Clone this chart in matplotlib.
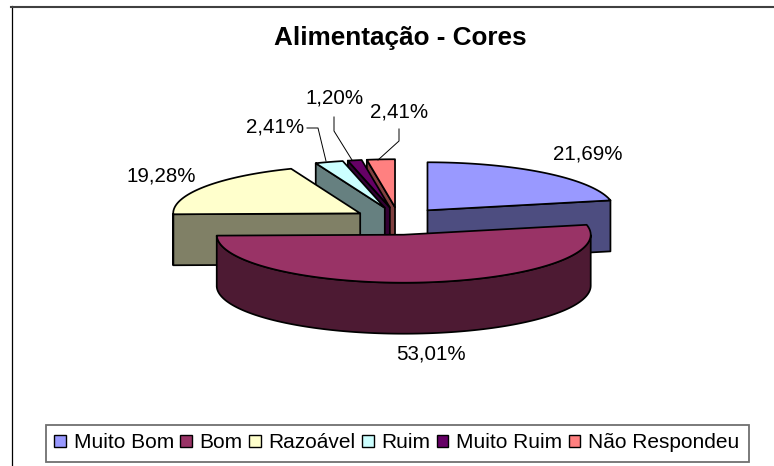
import numpy as np
import matplotlib
matplotlib.use("Agg")
import matplotlib.pyplot as plt
from matplotlib.patches import Polygon, Patch, Rectangle

categories = ["Muito Bom", "Bom", "Razoável", "Ruim", "Muito Ruim", "Não Respondeu"]
values = [21.69, 53.01, 19.28, 2.41, 1.20, 2.41]
top_colors = ["#9999FF", "#993366", "#FFFFCC", "#CCFFFF", "#660066", "#FF8080"]
side_colors = ["#4D4D80", "#4D1A33", "#808066", "#668080", "#330033", "#804040"]
title = "Alimentação - Cores"

# layout (pixels)
CX, CY, RX, RY, DEPTH, EXPLODE, KY = 398.5, 221.0, 187.0, 48.0, 51.0, 46.0, 0.30
label_xy = [(588, 154), (431, 354), (161, 176), (275, 127), (335, 98), (399, 112)]
leaders = {3: [(307, 128), (318, 128), (326, 161)],
           4: [(334, 117), (334, 131), (352, 160)],
           5: [(399, 129), (399, 141), (378, 160)]}

plt.rcParams["font.family"] = ["Liberation Sans", "DejaVu Sans"]
fig = plt.figure(figsize=(7.74, 4.66), dpi=100)
ax = fig.add_axes([0, 0, 1, 1])
ax.set_xlim(0, 774)
ax.set_ylim(466, 0)
ax.axis("off")

ax.plot([11.5, 11.5], [6, 466], color="black", lw=0.9, zorder=1)
ax.plot([11, 774], [6.5, 6.5], color="#404040", lw=1.5, zorder=1)

edges = np.cumsum([0] + values) / sum(values) * 2 * np.pi
LW = 1.25


def pt(a, apex, r=1.0):
    return (apex[0] + RX * r * np.sin(a), apex[1] - RY * r * np.cos(a))


slices = []
for i in range(len(values)):
    a0, a1 = edges[i], edges[i + 1]
    mid = (a0 + a1) / 2
    apex = (CX + EXPLODE * np.sin(mid), CY - EXPLODE * KY * np.cos(mid))
    slices.append((i, a0, a1, apex))

# painter's order, back to front
order = [0, 5, 4, 3, 2, 1]
z = 2
for i in order:
    _, a0, a1, apex = slices[i]
    side = side_colors[i]
    walls = []
    if np.sin(a1) > 0.01:
        walls.append(a1)
    if -np.sin(a0) > 0.01:
        walls.append(a0)
    for a in walls:
        p = pt(a, apex)
        poly = [apex, p, (p[0], p[1] + DEPTH), (apex[0], apex[1] + DEPTH)]
        ax.add_patch(Polygon(poly, closed=True, fc=side, ec="black", lw=LW, zorder=z, joinstyle="round"))
        z += 1
    lo, hi = max(a0, np.pi / 2), min(a1, 3 * np.pi / 2)
    if hi > lo:
        t = np.linspace(lo, hi, 120)
        upper = [pt(a, apex) for a in t]
        lower = [(x, y + DEPTH) for x, y in upper][::-1]
        ax.add_patch(Polygon(upper + lower, closed=True, fc=side, ec="black", lw=LW, zorder=z))
        z += 1
    t = np.linspace(a0, a1, 150)
    ax.add_patch(Polygon([apex] + [pt(a, apex) for a in t], closed=True,
                         fc=top_colors[i], ec="black", lw=LW, zorder=z, joinstyle="round"))
    z += 1

for i, (x, y) in enumerate(label_xy):
    txt = f"{values[i]:.2f}%".replace(".", ",")
    ax.text(x, y, txt, ha="center", va="center", fontsize=14.8, color="black", zorder=100)
for pts in leaders.values():
    xs, ys = zip(*pts)
    ax.plot(xs, ys, color="black", lw=0.7, zorder=100)

ax.text(400, 38, title, ha="center", va="center", fontsize=18.8, fontweight="bold", color="black", zorder=100)

ax.add_patch(Rectangle((45.5, 424.5), 703.5, 37.2, fc="white", ec="#707070", lw=1.3, zorder=99))
handles = [Patch(fc=c, ec="black", lw=1.0) for c in top_colors]
leg = ax.legend(handles, categories, loc="center", bbox_to_anchor=(397, 443),
                bbox_transform=ax.transData, ncols=6, fontsize=15.0, frameon=False,
                handlelength=0.54, handleheight=0.54,
                handletextpad=0.38, columnspacing=0.32, borderpad=0, borderaxespad=0)
leg.set_zorder(100)

fig.savefig("out.png", dpi=100)
